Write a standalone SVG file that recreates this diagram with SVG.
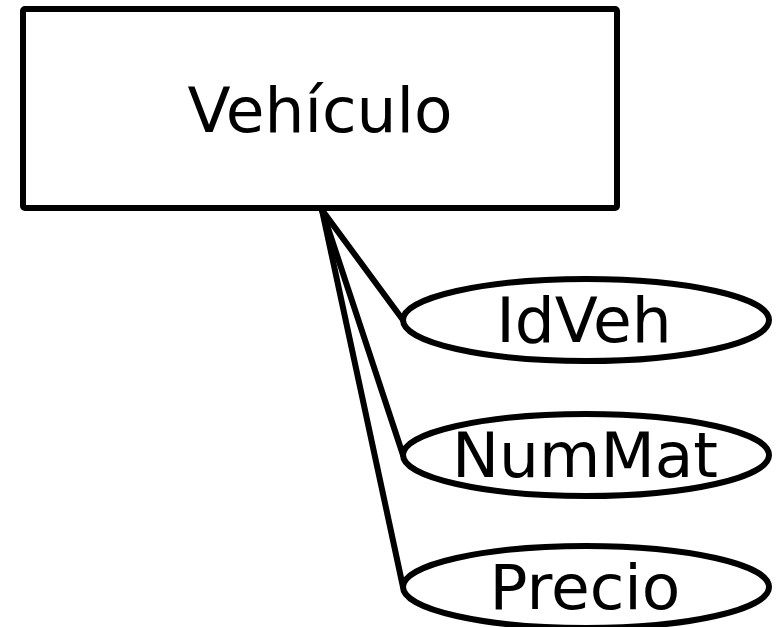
<svg xmlns="http://www.w3.org/2000/svg" width="783" height="627" viewBox="0 0 783 627">
<style>
.s{fill:#fff;stroke:#000;stroke-width:6;stroke-linejoin:round}
.c{fill:none;stroke:#000;stroke-width:6;stroke-linecap:round}
.t{font-family:"DejaVu Sans",sans-serif;font-size:63px;fill:#000;text-anchor:middle}
</style>
<rect width="783" height="627" fill="#fff"/>
<g id="connectors">
<line class="c" x1="322" y1="210" x2="403" y2="320"/>
<line class="c" x1="322" y1="210" x2="403" y2="455"/>
<line class="c" x1="322" y1="210" x2="403" y2="587"/>
</g>
<g id="vehiculo">
<rect class="s" x="23" y="9" width="594" height="199" rx="2"/>
<text class="t" x="320" y="132">Vehículo</text>
</g>
<g id="idveh">
<ellipse class="s" cx="586" cy="320" rx="183" ry="41"/>
<text class="t" x="584" y="342">IdVeh</text>
</g>
<g id="nummat">
<ellipse class="s" cx="586" cy="455" rx="183" ry="41"/>
<text class="t" x="585" y="477">NumMat</text>
</g>
<g id="precio">
<ellipse class="s" cx="586" cy="587" rx="183" ry="41"/>
<text class="t" x="585" y="609">Precio</text>
</g>
</svg>
